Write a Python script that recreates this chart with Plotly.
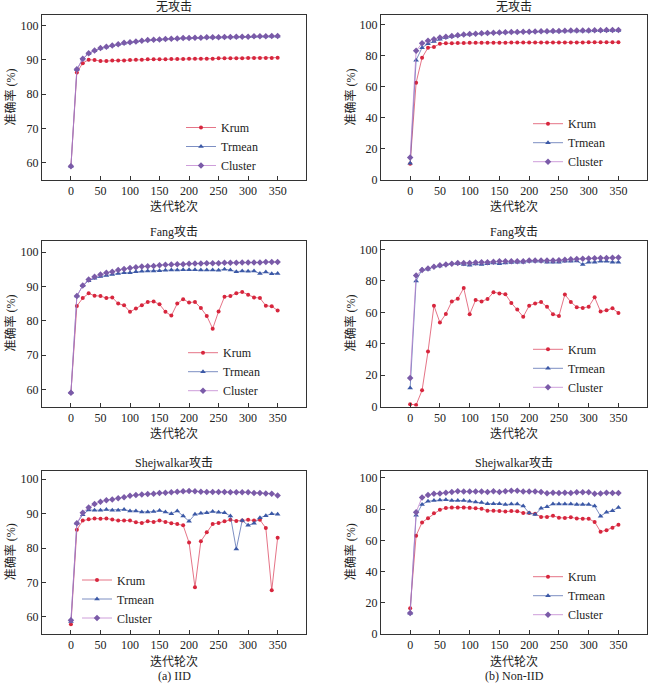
import plotly.graph_objects as go

rounds = list(range(0, 360, 10))

# IID, no attack
krum_iid_none = [59.0, 86.3, 89.0, 90.0, 89.9, 89.6, 89.6, 89.8, 89.8, 89.8, 89.9, 90.0, 90.0, 90.1, 90.1, 90.1,
                 90.1, 90.2, 90.2, 90.2, 90.3, 90.3, 90.3, 90.3, 90.3, 90.4, 90.4, 90.4, 90.4, 90.4, 90.5, 90.5,
                 90.5, 90.5, 90.5, 90.6]
trmean_iid_none = [59.0, 87.1, 90.2, 91.8, 92.6, 93.3, 93.7, 94.1, 94.5, 94.8, 95.1, 95.3, 95.5, 95.7, 95.8, 95.9,
                   96.0, 96.1, 96.2, 96.3, 96.3, 96.4, 96.4, 96.5, 96.5, 96.5, 96.6, 96.6, 96.6, 96.7, 96.7, 96.7,
                   96.8, 96.8, 96.8, 96.8]
cluster_iid_none = [59.0, 87.2, 90.3, 91.9, 92.7, 93.4, 93.8, 94.1, 94.5, 94.9, 95.1, 95.3, 95.5, 95.7, 95.8, 95.9,
                    96.0, 96.1, 96.2, 96.3, 96.3, 96.4, 96.4, 96.5, 96.5, 96.5, 96.6, 96.6, 96.7, 96.7, 96.7, 96.8,
                    96.8, 96.8, 96.9, 96.9]

# Non-IID, no attack
krum_non_none = [10.5, 62.5, 78.5, 85.0, 85.5, 87.5, 87.8, 87.9, 88.0, 88.0, 88.1, 88.1, 88.1, 88.2, 88.2, 88.2,
                 88.2, 88.3, 88.3, 88.3, 88.3, 88.3, 88.3, 88.4, 88.4, 88.4, 88.4, 88.4, 88.4, 88.4, 88.5, 88.5,
                 88.5, 88.5, 88.5, 88.5]
trmean_non_none = [10.7, 77.0, 85.0, 87.5, 89.0, 90.5, 91.5, 92.2, 92.8, 93.3, 93.7, 94.0, 94.2, 94.4, 94.6, 94.7,
                   94.9, 95.0, 95.1, 95.2, 95.3, 95.4, 95.5, 95.5, 95.6, 95.6, 95.7, 95.7, 95.8, 95.8, 95.8, 95.9,
                   95.9, 95.9, 96.0, 96.0]
cluster_non_none = [14.5, 83.0, 87.8, 89.5, 90.5, 91.5, 92.0, 92.5, 93.0, 93.5, 93.8, 94.0, 94.2, 94.4, 94.6, 94.8,
                    94.9, 95.0, 95.1, 95.2, 95.3, 95.4, 95.5, 95.6, 95.7, 95.8, 95.9, 96.0, 96.0, 96.1, 96.1, 96.2,
                    96.2, 96.3, 96.3, 96.4]

# IID, Fang attack
krum_iid_fang = [59.0, 84.3, 86.6, 88.0, 87.3, 87.2, 86.6, 86.8, 85.0, 84.5, 82.6, 83.6, 84.5, 85.5, 85.6, 84.8,
                 82.6, 81.5, 85.0, 86.3, 85.3, 85.5, 83.7, 81.4, 77.7, 82.7, 87.0, 87.2, 88.0, 88.4, 87.6, 86.8,
                 86.6, 84.4, 84.2, 83.0]
trmean_iid_fang = [59.0, 87.2, 90.2, 91.7, 92.4, 92.9, 93.2, 93.5, 93.8, 94.0, 94.0, 94.3, 94.4, 94.5, 94.5, 94.6,
                   94.7, 94.8, 94.8, 94.9, 94.9, 94.9, 94.8, 94.8, 94.8, 94.7, 95.0, 94.8, 94.3, 94.5, 94.4, 94.5,
                   93.8, 94.2, 93.7, 93.8]
cluster_iid_fang = [59.0, 87.2, 90.3, 92.0, 92.8, 93.5, 94.0, 94.3, 94.8, 95.1, 95.4, 95.6, 95.8, 95.9, 96.0, 96.2,
                    96.3, 96.4, 96.5, 96.5, 96.6, 96.7, 96.7, 96.8, 96.8, 96.8, 96.9, 96.9, 96.9, 97.0, 97.0, 97.0,
                    97.0, 97.1, 97.1, 97.1]

# Non-IID, Fang attack
krum_non_fang = [1.5, 1.0, 10.3, 35.0, 64.2, 53.5, 59.0, 67.0, 68.6, 75.5, 58.8, 67.8, 67.0, 68.5, 72.8, 72.0,
                 71.6, 66.0, 61.8, 57.2, 64.2, 65.7, 66.6, 63.5, 58.8, 57.7, 71.4, 66.6, 63.3, 62.8, 63.6, 69.6,
                 60.5, 61.3, 62.6, 59.6]
trmean_non_fang = [11.8, 80.0, 87.3, 87.5, 89.0, 89.5, 90.5, 91.0, 91.0, 90.5, 90.0, 90.8, 90.5, 91.0, 91.5, 91.0,
                   91.5, 91.8, 92.0, 92.0, 92.5, 92.5, 92.5, 92.0, 92.0, 92.0, 92.5, 92.5, 92.8, 90.5, 92.0, 92.0,
                   92.5, 92.5, 92.0, 92.0]
cluster_non_fang = [18.2, 83.5, 87.0, 88.0, 89.0, 90.0, 90.5, 91.0, 91.5, 91.5, 91.5, 91.8, 92.0, 92.0, 92.2, 92.5,
                    92.5, 92.5, 92.5, 92.5, 93.0, 93.0, 93.0, 93.0, 93.0, 93.2, 93.5, 93.8, 94.0, 94.2, 94.4, 94.5,
                    94.6, 94.7, 94.8, 94.9]

# IID, Shejwalkar attack
krum_iid_shej = [57.8, 85.3, 88.0, 88.4, 88.6, 88.5, 88.6, 88.3, 88.0, 88.0, 88.0, 87.5, 87.3, 87.8, 87.6, 88.0,
                 87.6, 87.2, 87.0, 86.6, 81.6, 68.6, 82.0, 84.6, 87.0, 87.3, 87.8, 88.2, 87.9, 88.0, 88.2, 88.0,
                 88.2, 85.8, 67.7, 83.0]
trmean_iid_shej = [58.6, 87.2, 89.7, 91.1, 91.0, 91.0, 91.2, 91.0, 91.0, 91.2, 90.8, 90.8, 90.5, 90.5, 90.6, 90.9,
                   90.5, 90.0, 90.8, 89.3, 87.8, 89.8, 90.1, 90.3, 90.6, 90.4, 90.3, 89.3, 79.7, 88.0, 86.6, 87.2,
                   88.8, 89.4, 90.0, 89.8]
cluster_iid_shej = [59.0, 87.2, 90.3, 91.8, 92.8, 93.5, 93.9, 94.1, 94.5, 94.8, 95.2, 95.4, 95.6, 95.7, 95.8, 96.0,
                    96.1, 96.2, 96.4, 96.5, 96.6, 96.5, 96.4, 96.3, 96.3, 96.3, 96.3, 96.2, 96.2, 96.2, 96.2, 96.0,
                    96.0, 95.9, 95.8, 95.3]

# Non-IID, Shejwalkar attack
krum_non_shej = [16.5, 63.0, 71.5, 74.2, 77.3, 79.6, 80.7, 81.0, 81.0, 81.0, 80.8, 80.5, 80.2, 79.0, 79.0, 78.8,
                 78.5, 78.8, 78.7, 77.5, 77.5, 77.0, 75.0, 75.0, 75.8, 74.5, 74.3, 74.8, 74.0, 73.8, 73.8, 71.8,
                 65.5, 66.5, 68.0, 70.0]
trmean_non_shej = [13.3, 76.0, 83.0, 85.0, 85.5, 85.8, 86.0, 85.5, 85.5, 85.5, 85.0, 84.5, 84.2, 83.5, 83.5, 83.5,
                   83.0, 83.2, 83.2, 82.0, 77.5, 76.5, 80.5, 81.5, 83.3, 83.3, 83.3, 83.2, 83.0, 83.0, 83.0, 82.0,
                   75.5, 78.0, 79.0, 81.0]
cluster_non_shej = [13.5, 78.0, 87.5, 89.0, 89.8, 90.0, 90.5, 91.0, 91.5, 91.2, 91.2, 91.3, 91.3, 91.0, 91.5, 91.0,
                    91.5, 91.8, 91.7, 91.3, 91.3, 91.2, 91.0, 90.2, 90.5, 90.3, 90.5, 90.3, 90.8, 90.8, 90.8, 89.8,
                    90.0, 90.5, 90.3, 90.3]

series_names = ["Krum", "Trmean", "Cluster"]
panel_titles = ["无攻击", "无攻击", "Fang攻击", "Fang攻击", "Shejwalkar攻击", "Shejwalkar攻击"]
panel_data = [
    [krum_iid_none, trmean_iid_none, cluster_iid_none],
    [krum_non_none, trmean_non_none, cluster_non_none],
    [krum_iid_fang, trmean_iid_fang, cluster_iid_fang],
    [krum_non_fang, trmean_non_fang, cluster_non_fang],
    [krum_iid_shej, trmean_iid_shej, cluster_iid_shej],
    [krum_non_shej, trmean_non_shej, cluster_non_shej],
]
x_ticks = [0, 50, 100, 150, 200, 250, 300, 350]
y_ticks_iid = [60, 70, 80, 90, 100]
y_ticks_non = [0, 20, 40, 60, 80, 100]
captions = ["(a) IID", "(b) Non-IID"]

W, H = 650, 683
FONT = "Liberation Serif, Noto Sans CJK SC, serif"
CJK = "Noto Sans CJK SC, Liberation Serif, sans-serif"

marker_colors = ["#d7263d", "#3b58a6", "#7a5ba8"]
line_colors = ["rgba(220,70,95,0.75)", "rgba(70,95,170,0.7)", "rgba(190,125,205,0.75)"]
symbols = ["circle", "triangle-up", "diamond"]
msizes = [4, 5, 5]

# pixel geometry of the panels (left, right, top, bottom)
col_px = [(42, 306), (381, 647)]
row_px = [(15, 180), (240.5, 406.5), (470.7, 634)]
y_ranges_left = [[55, 103], [55, 103.4], [55, 102.5]]
y_ranges_right = [[0, 106], [0, 105.8], [0, 104.6]]
legend_pos = [(181, 146.5), (528, 142.7), (183, 371.7), (528, 368.3), (77, 599), (528, 595.7)]

fig = go.Figure()
annotations = []
layout_axes = {}

for i in range(6):
    r, c = divmod(i, 2)
    (x0, x1) = col_px[c]
    (y0, y1) = row_px[r]
    ax = "" if i == 0 else str(i + 1)
    xa = "x" + ax
    ya = "y" + ax
    leg = "legend" if i == 0 else "legend" + str(i + 1)
    for k in range(3):
        fig.add_trace(go.Scatter(
            x=rounds, y=panel_data[i][k], name=series_names[k], mode="lines+markers",
            line=dict(color=line_colors[k], width=1),
            marker=dict(symbol=symbols[k], size=msizes[k], color=marker_colors[k]),
            xaxis=xa, yaxis=ya, legend=leg, showlegend=True,
        ))
    common = dict(showline=True, linecolor="#333333", linewidth=1, mirror=True, automargin=False,
                  ticks="inside", ticklen=4, tickcolor="#333333", showgrid=False, zeroline=False,
                  tickfont=dict(family=FONT, size=12, color="#222222"))
    layout_axes["xaxis" + ax] = dict(domain=[x0 / W, x1 / W], anchor=ya, range=[-49, 398],
                                     tickvals=x_ticks, **common)
    if c == 0:
        yr, yt = y_ranges_left[r], y_ticks_iid
    else:
        yr, yt = y_ranges_right[r], y_ticks_non
    layout_axes["yaxis" + ax] = dict(domain=[1 - y1 / H, 1 - y0 / H], anchor=xa, range=yr,
                                     tickvals=yt, **common)
    lx, ly = legend_pos[i]
    layout_axes[leg] = dict(x=lx / W, y=1 - ly / H, xanchor="left", yanchor="middle",
                            bgcolor="rgba(0,0,0,0)", borderwidth=0, tracegroupgap=0,
                            font=dict(family=FONT, size=12, color="#222222"), itemwidth=30)
    xc = (x0 + x1) / 2
    annotations.append(dict(text=panel_titles[i], x=xc / W, y=1 - (y0 - 8) / H, xref="paper", yref="paper",
                            showarrow=False, xanchor="center", yanchor="middle",
                            font=dict(family=FONT, size=12, color="#222222")))
    annotations.append(dict(text="迭代轮次", x=xc / W, y=1 - (y1 + 26) / H, xref="paper", yref="paper",
                            showarrow=False, xanchor="center", yanchor="middle",
                            font=dict(family=CJK, size=12, color="#222222")))
    ytx = 10 if c == 0 else 350
    annotations.append(dict(text="准确率 (%)", x=ytx / W, y=1 - ((y0 + y1) / 2) / H, xref="paper", yref="paper",
                            showarrow=False, xanchor="center", yanchor="middle", textangle=-90,
                            font=dict(family=FONT, size=12, color="#222222")))

for c in range(2):
    xc = sum(col_px[c]) / 2
    annotations.append(dict(text=captions[c], x=xc / W, y=1 - 676 / H, xref="paper", yref="paper",
                            showarrow=False, xanchor="center", yanchor="middle",
                            font=dict(family=FONT, size=12, color="#222222")))

fig.update_layout(width=W, height=H, margin=dict(l=0, r=0, t=0, b=0, autoexpand=False),
                  paper_bgcolor="white", plot_bgcolor="white",
                  annotations=annotations, **layout_axes)

fig.write_html("out.html", config={"displayModeBar": False},
               post_script="document.body.style.margin='0px';document.body.style.overflow='hidden';")
